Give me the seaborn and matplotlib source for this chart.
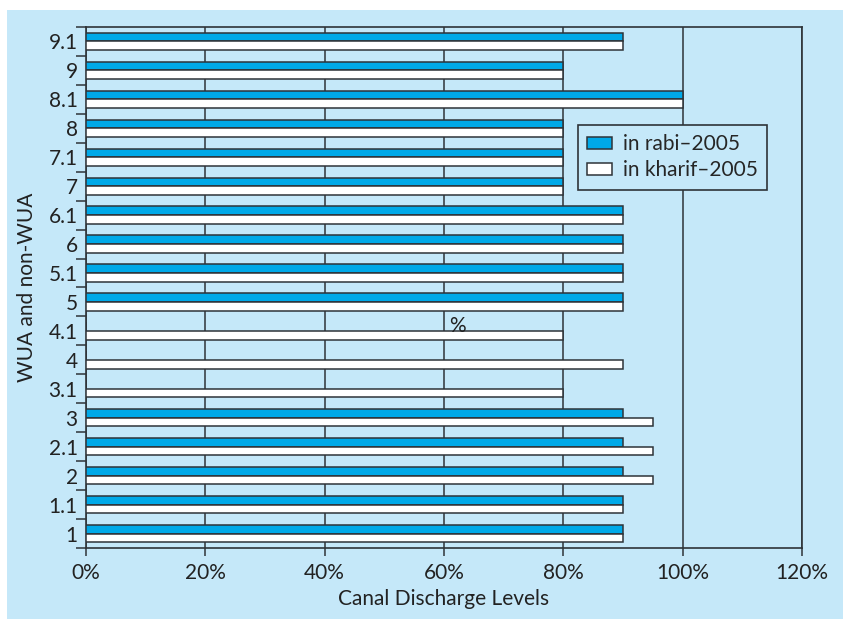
import numpy as np
import pandas as pd
import matplotlib
matplotlib.use("Agg")
import matplotlib.pyplot as plt
from matplotlib.patches import Rectangle
import seaborn as sns

categories = ["9.1", "9", "8.1", "8", "7.1", "7", "6.1", "6", "5.1", "5",
              "4.1", "4", "3.1", "3", "2.1", "2", "1.1", "1"]
rabi_2005 = [90, 80, 100, 80, 80, 80, 90, 90, 90, 90,
             0, 0, 0, 90, 90, 90, 90, 90]
kharif_2005 = [90, 80, 100, 80, 80, 80, 90, 90, 90, 90,
               80, 90, 80, 95, 95, 95, 90, 90]
series_names = ["in rabi\u20132005", "in kharif\u20132005"]
x_ticks = [0, 20, 40, 60, 80, 100, 120]
x_tick_labels = ["0%", "20%", "40%", "60%", "80%", "100%", "120%"]

BG = "#C5E8F9"
BLUE = "#00A9E8"
DARK = "#2E3338"

sns.set_style("white")
plt.rcParams["font.family"] = ["Lato", "DejaVu Sans"]

df = pd.DataFrame({
    "group": categories * 2,
    "value": rabi_2005 + kharif_2005,
    "season": [series_names[0]] * len(categories) + [series_names[1]] * len(categories),
})

fig = plt.figure(figsize=(8.43, 6.19), dpi=100, facecolor="white")
fig.patches.append(Rectangle((7 / 843, 0), 1 - 7 / 843, 1 - 10 / 619,
                             transform=fig.transFigure, facecolor=BG,
                             edgecolor="none", zorder=-10))
ax = fig.add_axes([86 / 843, 71 / 619, 716 / 843, 521 / 619])
ax.set_facecolor(BG)

sns.barplot(data=df, y="group", x="value", hue="season", orient="h",
            order=categories, hue_order=series_names,
            palette=[BLUE, "white"], width=0.6, edgecolor=DARK,
            linewidth=1.1, saturation=1, ax=ax, zorder=3)

n = len(categories)
ax.set_xlim(0, 120)
ax.set_ylim(n - 0.5, -0.5)
ax.set_xticks(x_ticks, labels=x_tick_labels)
ax.set_yticks(np.arange(-0.5, n, 1.0), labels=[""] * (n + 1))
ax.set_yticks(np.arange(n), labels=categories, minor=True)
ax.tick_params(axis="y", which="major", length=7, width=1.1, color=DARK, direction="out", left=True)
ax.tick_params(axis="y", which="minor", length=0, labelsize=15, labelcolor="#222222", pad=6)
ax.tick_params(axis="x", which="major", length=6, width=1.1, color=DARK, direction="out",
               bottom=True, labelsize=15, labelcolor="#222222", pad=5)

ax.grid(axis="x", color=DARK, linewidth=1.1, zorder=0)
ax.grid(axis="y", visible=False)
ax.set_axisbelow(True)
for s in ax.spines.values():
    s.set_visible(True)
    s.set_color(DARK)
    s.set_linewidth(1.2)

ax.set_xlabel("Canal Discharge Levels", fontsize=15, color="#222222", labelpad=4)
ax.set_ylabel("WUA and non-WUA", fontsize=15, color="#222222", labelpad=8)

ax.text(62.3, 10 - 0.17, "%", fontsize=15, color="#222222", ha="center", va="center", zorder=4)

leg = ax.legend(loc="upper left", bbox_to_anchor=((578 - 86) / 716, (548 - 125) / 521),
                frameon=True, fancybox=False, fontsize=15, handlelength=1.2,
                handleheight=0.5, borderpad=0.45, labelspacing=0.28, handletextpad=0.5,
                borderaxespad=0)
leg.get_frame().set_facecolor(BG)
leg.get_frame().set_edgecolor(DARK)
leg.get_frame().set_linewidth(1.2)
leg.get_frame().set_alpha(1)
leg.set_zorder(5)

fig.savefig("out.png", dpi=100, facecolor="white")
